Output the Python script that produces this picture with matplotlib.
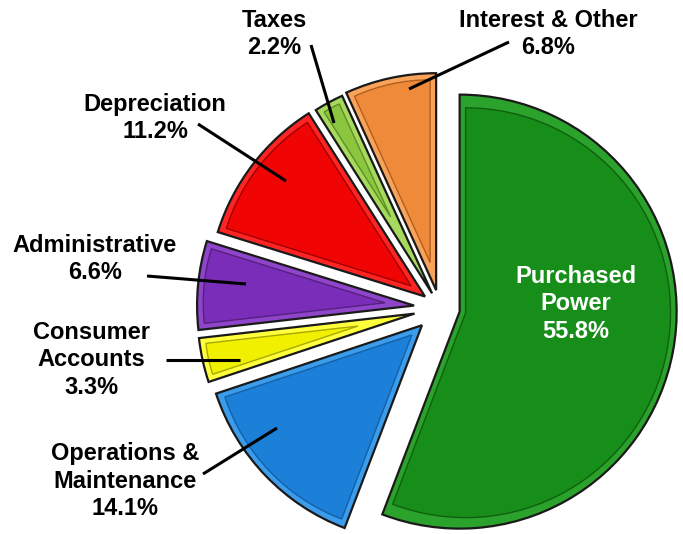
import numpy as np
import matplotlib
matplotlib.use("Agg")
import matplotlib.pyplot as plt
from matplotlib.patches import Wedge

labels = ["Purchased\nPower", "Operations &\nMaintenance", "Consumer\nAccounts",
          "Administrative", "Depreciation", "Taxes", "Interest & Other"]
values = [55.8, 14.1, 3.3, 6.6, 11.2, 2.2, 6.8]

explode_frac = [0.092, 0.115, 0.12, 0.12, 0.087, 0.077, 0.084]
base_colors = ["#178E19", "#1C80D8", "#F0F000", "#7A2DB8", "#F00404", "#8CC63F", "#EE8A3A"]
band_colors = ["#2BA22B", "#3C9CEC", "#FFFF3C", "#8E45CA", "#FF2424", "#A6D95C", "#F9A35A"]
inner_edge = ["#0E600F", "#1260A8", "#A8A800", "#55207F", "#A00000", "#5E8F25", "#B25E1C"]

W, H = 683, 534
fig = plt.figure(figsize=(W / 100, H / 100), dpi=100)
ax = fig.add_axes([0, 0, 1, 1])

cx, cy, R = 440, H - 308, 217
wedges, _ = ax.pie(values, explode=[e * R for e in explode_frac], colors=band_colors,
                   startangle=90, counterclock=False, center=(cx, cy), radius=R,
                   wedgeprops=dict(edgecolor="#1a1a1a", linewidth=1.6))

# bevel: inset wedge inside each slice
d = 6.0
for w, bc, ie in zip(wedges, base_colors, inner_edge):
    t1, t2 = w.theta1, w.theta2
    half = np.deg2rad((t2 - t1) / 2)
    mid = np.deg2rad((t1 + t2) / 2)
    s = d / np.sin(half)
    c2 = (w.center[0] + s * np.cos(mid), w.center[1] + s * np.sin(mid))
    r2 = w.r - d - s
    iw = Wedge(c2, r2, t1, t2, facecolor=bc, edgecolor=ie, linewidth=1.0,
               zorder=w.get_zorder() + 0.1)
    ax.add_patch(iw)

ax.set_xlim(0, W)
ax.set_ylim(0, H)
ax.set_aspect("equal")
ax.axis("off")

font = dict(family=["Liberation Sans", "DejaVu Sans"], fontsize=17, fontweight="bold",
            ha="center", va="center", linespacing=1.25)

pcts = [f"{v:.1f}%" for v in values]
# label centres (pixel coords from top)
label_pos = [(576, 304), (125, 481), (91, 360), (95, 259), (155, 118), (274, 34), (548, 34)]
for i, (lab, p, pos) in enumerate(zip(labels, pcts, label_pos)):
    col = "white" if i == 0 else "black"
    ax.text(pos[0], H - pos[1], f"{lab}\n{p}", color=col, zorder=10, **font)

# leader lines (start, end) in pixel coords from top
leaders = [None,
           ((203, 474), (277, 428)),
           ((166, 360), (240, 360)),
           ((147, 276), (246, 284)),
           ((198, 124), (286, 181)),
           ((311, 45), (334, 123)),
           ((509, 42), (409, 89))]
for ln in leaders:
    if ln is None:
        continue
    (x0, y0), (x1, y1) = ln
    ax.plot([x0, x1], [H - y0, H - y1], color="black", lw=2.2, zorder=9,
            solid_capstyle="butt")

fig.savefig("out.png", dpi=100)
